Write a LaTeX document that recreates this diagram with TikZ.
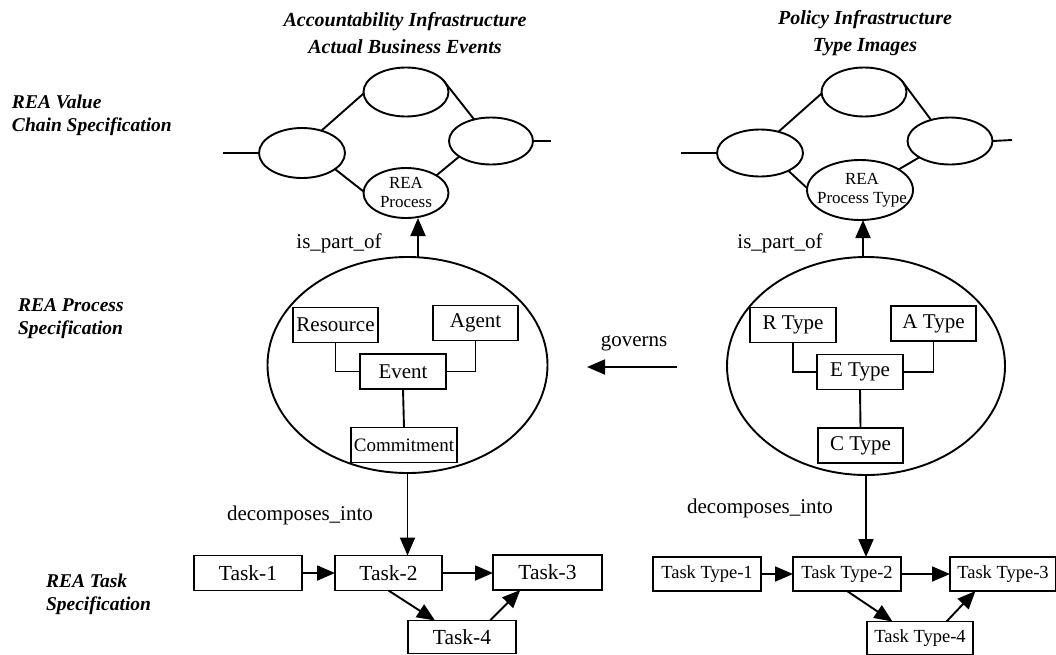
\documentclass[tikz,border=0pt]{standalone}
\usepackage{fontspec}
\setmainfont{Liberation Serif}
\usetikzlibrary{arrows.meta,calc,shapes.geometric}
\begin{document}
\begin{tikzpicture}[x=1pt,y=-1pt,
  every node/.style={inner sep=0pt, outer sep=0pt},
  ln/.style={line width=1.9pt},
  arr/.style={line width=1.9pt, -{Triangle[length=18pt,width=15pt]}},
  box/.style={draw, line width=1.9pt, rectangle, minimum height=35pt, font=\fontsize{21}{23}\selectfont},
  sell/.style={draw, ellipse, line width=1.9pt, minimum width=85pt, minimum height=49pt},
  bell/.style={draw, ellipse, line width=1.9pt, minimum width=280pt, minimum height=216pt},
  ttl/.style={font=\fontsize{20}{27}\selectfont\bfseries\itshape, align=center},
  side/.style={font=\fontsize{19.5}{23}\selectfont\bfseries\itshape, align=left, anchor=west},
  lbl/.style={font=\fontsize{21}{23}\selectfont},
  etxt/.style={font=\fontsize{17}{18.5}\selectfont, align=center}
]
\useasboundingbox (0,0) rectangle (1056,654);

% ---- titles and side labels
\node[ttl] (t1) at (405,33) {Accountability Infrastructure\\Actual Business Events};
\node[ttl] (t2) at (865,33) {Policy Infrastructure\\Type Images};
\node[side] (s1) at (12,115.5) {REA Value\\Chain Specification};
\node[side] (s2) at (18,318.5) {REA Process\\Specification};
\node[side] (s3) at (46,594.5) {REA Task\\Specification};

% ---- left value chain
\node[sell] (LT) at (406,92) {};
\node[sell, minimum width=86pt, minimum height=50pt] (LL) at (302,153) {};
\node[sell, minimum width=84pt, minimum height=47pt] (LR) at (491,141) {};
\node[sell, minimum height=50pt] (LP) at (406,193) {};
\node[etxt] (LPt) at (406,192.5) {REA\\Process};
\coordinate (LLend) at (223,153);
\coordinate (LRend) at (551,141);
\draw[ln] (LLend) -- (LL.west);
\draw[ln] (LR.east) -- (LRend);
\draw[ln] (LL.49) -- (LT.182);
\draw[ln] (LT.18) -- (LR.128);
\draw[ln] (LL.-26) -- (LP.178);
\draw[ln] (LR.206) -- (LP.30);

% ---- right value chain
\node[sell] (RT) at (864,92) {};
\node[sell, minimum width=86pt, minimum height=47pt] (RL) at (760,153) {};
\node[sell, minimum height=47pt] (RR) at (950,141) {};
\node[sell, minimum width=106pt, minimum height=60pt] (RP) at (860,190) {};
\node[etxt] (RPt) at (862,190) {REA\\Process Type};
\coordinate (RLend) at (681,153);
\coordinate (RRend) at (1012,140);
\draw[ln] (RLend) -- (RL.west);
\draw[ln] (RR.east) -- (RRend);
\draw[ln] (RL.49) -- (RT.182);
\draw[ln] (RT.16) -- (RR.132);
\draw[ln] (RL.-32) -- (RP.178);
\draw[ln] (RR.208) -- (RP.28);

% ---- process ellipses
\node[bell] (PL) at (407.5,365) {};
\node[bell, minimum width=278pt, minimum height=218pt] (PR) at (866,366) {};

\node[box, minimum width=85pt] (Res) at (335.5,325) {Resource};
\node[box, minimum width=85pt] (Ag) at (475.5,323) {Agent};
\node[box, minimum width=86pt] (Ev) at (403,371.5) {Event};
\node[box, minimum width=106pt, font=\fontsize{19}{21}\selectfont] (Com) at (404,445) {Commitment};
\draw[ln] (Res.south) |- (Ev.west);
\draw[ln] (Ev.east) -| (Ag.south);
\draw[ln] (Ev.south) -- (Com.north);

\node[box, minimum width=86pt] (RTy) at (793,325) {R Type};
\node[box, minimum width=85pt] (ATy) at (933.5,323.5) {A Type};
\node[box, minimum width=86pt] (ETy) at (860,372) {E Type};
\node[box, minimum width=85pt] (CTy) at (860.5,445.5) {C Type};
\draw[ln] (RTy.south) |- (ETy.west);
\draw[ln] (ETy.east) -| (ATy.south);
\draw[ln] (ETy.south) -- (CTy.north);

% ---- is_part_of
\coordinate (axL) at (418,0);
\coordinate (axR) at (863,0);
\draw[arr] (PL.north -| axL) -- (LP.south -| axL);
\draw[arr] (PR.north -| axR) -- (RP.south -| axR);
\node[lbl] (ipL) at (339,243) {is\_part\_of};
\node[lbl] (ipR) at (780,243) {is\_part\_of};

% ---- governs
\coordinate (g1) at (677,367);
\coordinate (g2) at (587,367);
\draw[arr] (g1) -- (g2);
\node[lbl] (gov) at (634,343) {governs};

% ---- tasks left
\node[box, minimum width=108pt, font=\fontsize{21.5}{23}\selectfont] (T1) at (248,573) {Task-1};
\node[box, minimum width=107pt, font=\fontsize{21.5}{23}\selectfont] (T2) at (388.5,573) {Task-2};
\node[box, minimum width=109pt, font=\fontsize{21.5}{23}\selectfont] (T3) at (547.5,572.5) {Task-3};
\node[box, minimum width=108pt, minimum height=33pt, font=\fontsize{21.5}{23}\selectfont] (T4) at (462,637) {Task-4};
\draw[arr] (PL.south) -- (PL.south |- T2.north);
\node[lbl] (dL) at (300,515) {decomposes\_into};
\draw[arr] (T1) -- (T2);
\draw[arr] (T2.east) -- (T3.west |- T2.east);
\draw[arr] (T2.south) -- ($(T4.north west)!0.25!(T4.north east)$);
\draw[arr] ($(T4.north west)!0.76!(T4.north east)$) -- ($(T3.south west)!0.25!(T3.south east)$);

% ---- tasks right
\node[box, minimum width=108pt, minimum height=34pt, font=\fontsize{18.5}{20}\selectfont] (TT1) at (707,574) {Task Type-1};
\node[box, minimum width=108pt, minimum height=34pt, font=\fontsize{18.5}{20}\selectfont] (TT2) at (847,574) {Task Type-2};
\node[box, minimum width=106pt, minimum height=34pt, font=\fontsize{18.5}{20}\selectfont] (TT3) at (1003,574) {Task Type-3};
\node[box, minimum width=106pt, minimum height=33pt, font=\fontsize{18.5}{20}\selectfont] (TT4) at (920,638) {Task Type-4};
\draw[arr] (PR.south) -- (PR.south |- TT2.north);
\node[lbl] (dR) at (760,508) {decomposes\_into};
\draw[arr] (TT1) -- (TT2);
\draw[arr] (TT2) -- (TT3);
\draw[arr] (TT2.south) -- ($(TT4.north west)!0.24!(TT4.north east)$);
\draw[arr] ($(TT4.north west)!0.75!(TT4.north east)$) -- ($(TT3.south west)!0.24!(TT3.south east)$);
\end{tikzpicture}
\end{document}
